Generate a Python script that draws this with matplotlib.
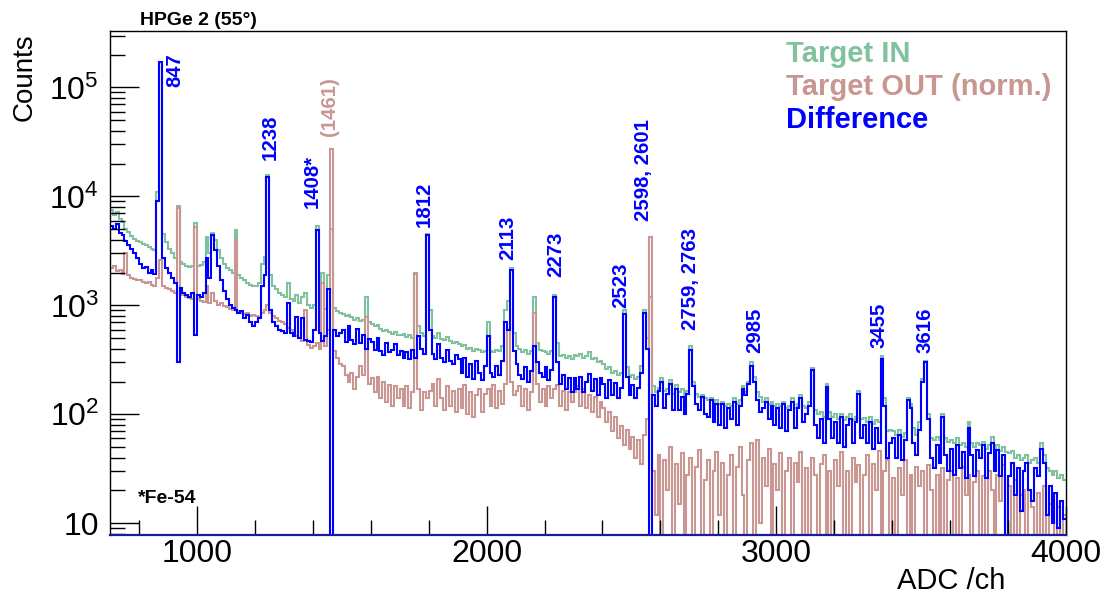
import numpy as np
import matplotlib
matplotlib.use("Agg")
import matplotlib.pyplot as plt
from matplotlib.ticker import FixedLocator, FuncFormatter, LogLocator, MultipleLocator, NullFormatter

# ---------------- data (10-channel bins, ADC 700 .. 4000) ----------------
CH_START, CH_STOP, BIN = 700, 4000, 10

difference = [
    5400, 5000, 5600, 4600, 4400, 3900, 3600, 3300, 3000, 2700,      # 700
    2400, 2200, 2250, 2000, 2100, 1950, 9000, 170000, 2700, 2200,    # 800
    2000, 1800, 1600, 300, 1450, 1300, 1250, 1200, 1300, 530,        # 900
    1250, 1200, 1300, 2700, 1800, 4400, 3200, 2300, 1700, 1350,      # 1000
    1150, 1000, 950, 900, 850, 880, 760, 820, 700, 640,              # 1100
    700, 760, 1500, 1900, 15000, 900, 700, 640, 600, 580,            # 1200
    560, 1050, 560, 520, 780, 500, 760, 480, 470, 460,               # 1300
    600, 4900, 560, 470, 520, 1400, -22000, 600, 520, 560,           # 1400
    600, 460, 640, 480, 440, 610, 450, 540, 400, 490,                # 1500
    460, 390, 500, 380, 350, 450, 370, 390, 440, 350,                # 1600
    380, 330, 370, 320, 390, 330, 520, 400, 360, 4400,               # 1700
    600, 360, 320, 440, 330, 300, 390, 310, 290, 350,                # 1800
    320, 240, 330, 220, 290, 210, 310, 240, 205, 280,                # 1900
    520, 240, 220, 280, 230, 310, 700, 600, 2100, 380,               # 2000
    290, 230, 210, 270, 200, 250, 420, 300, 240, 220,                # 2100
    270, 205, 255, 1190, 300, 190, 230, 170, 215, 160,               # 2200
    215, 170, 220, 160, 200, 235, 165, 210, 150, 215,                # 2300
    190, 140, 205, 150, 195, 140, 175, 840, 220, 150,                # 2400
    185, 140, 175, 240, 860, 400, -3000, 150, 120, 165,              # 2500
    200, 115, 155, 190, 110, 170, 110, 145, 100, 155,                # 2600
    390, 180, 125, 110, 145, 100, 95, 135, 85, 125,                  # 2700
    80, 125, 75, 115, 90, 130, 80, 120, 170, 150,                    # 2800
    190, 280, 200, 135, 105, 115, 130, 90, 120, 80,                  # 2900
    115, 75, 125, 70, 110, 130, 75, 115, 140, 85,                    # 3000
    100, 120, 253, 80, 60, 90, 55, 177, 90, 60,                      # 3100
    85, 55, 95, 50, 80, 90, 55, 85, 155, 60,                         # 3200
    80, 55, 85, 48, 75, 55, 325, 120, 40, 55,                        # 3300
    60, 40, 65, 38, 58, 134, 115, 55, 42, 72,                        # 3400
    200, 300, 90, 40, 32, 52, 36, 94, 42, 30,                        # 3500
    48, 28, 52, 32, 45, 26, 75, 42, 27, 47,                          # 3600
    40, 52, 26, 44, 55, 30, 47, 27, 42, -5,                          # 3700
    27, 36, 18, 32, 13, 30, 36, 20, 16, 32,                          # 3800
    27, 48, 36, 12, 22, 10, 19, 9, 16, 11,                           # 3900
]

target_out = [
    2200, 2300, 2050, 2100, 1950, 3000, 1900, 1800, 1750, 1700,      # 700
    1700, 1650, 1600, 1650, 1550, 1500, 1800, 2600, 1500, 1450,      # 800
    1400, 1350, 1300, 7900, 1280, 1250, 1200, 1180, 1150, 5200,      # 900
    1150, 1100, 1080, 1500, 1050, 1300, 1100, 1000, 1050, 980,       # 1000
    960, 930, 900, 3950, 880, 860, 840, 850, 800, 820,               # 1100
    800, 780, 850, 900, 1000, 850, 800, 760, 720, 700,               # 1200
    680, 620, 600, 560, 520, 500, 470, 900, 430, 410,                # 1300
    420, 450, 400, 1600, 420, 600, 27000, 380, 330, 290,             # 1400
    280, 230, 200, 240, 170, 220, 280, 230, 780, 190,                # 1500
    215, 160, 220, 140, 200, 130, 185, 120, 180, 140,                # 1600
    170, 120, 180, 115, 160, 1950, 170, 110, 160, 140,               # 1700
    165, 190, 120, 210, 140, 110, 180, 120, 165, 105,                # 1800
    170, 115, 185, 100, 160, 95, 150, 170, 105, 155,                 # 1900
    170, 120, 185, 115, 165, 125, 190, 590, 200, 150,                # 2000
    165, 180, 120, 170, 110, 160, 860, 190, 130, 170,                # 2100
    120, 180, 140, 170, 185, 120, 165, 110, 160, 130,                # 2200
    160, 180, 120, 170, 115, 150, 105, 145, 95, 130,                 # 2300
    115, 85, 105, 70, 95, 60, 78, 52, 72, 48,                        # 2400
    62, 40, 58, 35, 65, 90, 4200, 30, 12, 42,                        # 2500
    6, 38, 20, 50, 4, 35, 15, 44, 0, 28,                             # 2600
    40, 5, 33, 47, 3, 25, 38, 0, 30, 45,                             # 2700
    12, 36, 2, 28, 42, 5, 33, 50, 18, 0,                             # 2800
    38, 55, 6, 58, 10, 40, 22, 48, 3, 35,                            # 2900
    20, 44, 0, 30, 40, 4, 36, 24, 45, 2,                             # 3000
    32, 6, 40, 28, 0, 35, 42, 5, 30, 4,                              # 3100
    38, 22, 45, 0, 30, 5, 40, 24, 34, 3,                             # 3200
    28, 42, 4, 35, 20, 46, 0, 30, 38, 6,                             # 3300
    26, 2, 32, 18, 38, 3, 28, 0, 33, 22,                             # 3400
    30, 5, 34, 20, 0, 28, 6, 32, 3, 25,                              # 3500
    30, 4, 26, 0, 33, 18, 28, 3, 24, 30,                             # 3600
    5, 27, 0, 30, 20, 4, 28, 16, 34, 2,                              # 3700
    22, 4, 25, 0, 18, 20, 3, 20, 14, 0,                              # 3800
    19, 5, 22, 0, 15, 18, 2, 14, 0, 12,                              # 3900
]

target_in = [
    7500, 6800, 7200, 6200, 5800, 5000, 4700, 4300, 4100, 3900,      # 700
    3800, 3650, 3600, 3450, 3300, 3200, 11000, 172000, 4500, 3800,   # 800
    3300, 3000, 2700, 8200, 2500, 2400, 2300, 2250, 2300, 5700,      # 900
    2300, 2350, 2500, 4200, 3000, 4600, 4000, 3200, 2700, 2400,      # 1000
    2200, 2100, 2000, 4900, 1900, 1800, 1700, 1600, 1550, 1500,      # 1100
    1520, 1600, 2400, 2800, 15800, 1900, 1500, 1400, 1300, 1250,     # 1200
    1200, 1600, 1150, 1100, 1250, 1050, 1200, 1300, 1000, 950,       # 1300
    1000, 5300, 950, 2000, 920, 1900, 5000, 950, 880, 860,           # 1400
    840, 800, 820, 780, 740, 760, 720, 740, 1190, 700,               # 1500
    680, 640, 660, 610, 580, 600, 570, 550, 570, 540,                # 1600
    530, 550, 510, 530, 500, 2000, 650, 560, 520, 4500,              # 1700
    900, 520, 500, 560, 490, 480, 510, 470, 450, 460,                # 1800
    440, 420, 430, 400, 410, 380, 400, 390, 370, 380,                # 1900
    700, 380, 370, 390, 380, 420, 900, 1100, 2200, 560,              # 2000
    420, 400, 370, 390, 360, 380, 1200, 450, 390, 380,               # 2100
    370, 360, 380, 1250, 450, 340, 350, 330, 340, 320,               # 2200
    350, 340, 360, 330, 340, 370, 320, 330, 300, 310,                # 2300
    290, 260, 270, 240, 250, 230, 240, 900, 270, 220,                # 2400
    230, 210, 220, 280, 900, 500, 1200, 180, 160, 175,               # 2500
    215, 165, 170, 205, 155, 185, 160, 170, 150, 165,                # 2600
    420, 200, 155, 145, 150, 140, 135, 140, 125, 135,                # 2700
    125, 130, 120, 125, 120, 140, 125, 135, 180, 160,                # 2800
    200, 300, 220, 160, 145, 130, 140, 125, 130, 120,                # 2900
    125, 120, 130, 115, 120, 140, 115, 125, 150, 120,                # 3000
    115, 130, 265, 110, 100, 105, 95, 190, 105, 95,                  # 3100
    100, 90, 100, 88, 95, 100, 88, 95, 165, 90,                      # 3200
    92, 85, 95, 82, 88, 85, 340, 140, 70, 72,                        # 3300
    70, 65, 72, 62, 68, 140, 125, 75, 65, 85,                        # 3400
    210, 310, 100, 60, 58, 62, 58, 100, 60, 56,                      # 3500
    58, 54, 60, 52, 55, 50, 85, 55, 50, 54,                          # 3600
    52, 56, 48, 52, 62, 48, 52, 46, 50, 45,                          # 3700
    44, 46, 40, 42, 38, 40, 42, 36, 38, 40,                          # 3800
    36, 55, 42, 32, 30, 28, 30, 26, 28, 25,                          # 3900
]

# peak labels: (text, channel, counts at label base, colour key)
peak_labels = [
    ("847", 924, 1.0e5, "diff"),
    ("1238", 1252, 2.14e4, "diff"),
    ("1408*", 1397, 7.9e3, "diff"),
    ("(1461)", 1459, 3.6e4, "out"),
    ("1812", 1786, 5.2e3, "diff"),
    ("2113", 2072, 2.59e3, "diff"),
    ("2273", 2238, 1.81e3, "diff"),
    ("2523", 2462, 9.4e2, "diff"),
    ("2598, 2601", 2541, 6.0e3, "diff"),
    ("2759, 2763", 2703, 5.9e2, "diff"),
    ("2985", 2924, 3.63e2, "diff"),
    ("3455", 3355, 4.03e2, "diff"),
    ("3616", 3514, 3.63e2, "diff"),
]

legend_entries = ["Target IN", "Target OUT (norm.)", "Difference"]

# ---------------- style ----------------
GREEN = "#80c19e"
PINK = "#c99691"
BLUE = "#0000ff"
colors = {"in": GREEN, "out": PINK, "diff": BLUE}

plt.rcParams["font.family"] = ["Liberation Sans", "DejaVu Sans"]
plt.rcParams["mathtext.fontset"] = "custom"
plt.rcParams["mathtext.rm"] = "Liberation Sans"
plt.rcParams["mathtext.it"] = "Liberation Sans:italic"
plt.rcParams["mathtext.bf"] = "Liberation Sans:bold"

for arr in (difference, target_out, target_in):
    assert len(arr) == (CH_STOP - CH_START) // BIN

edges = np.arange(CH_START, CH_STOP + BIN, BIN)

W, H = 1110, 596
fig = plt.figure(figsize=(W / 100, H / 100), dpi=100)
L, R, T, B = 110, 1066, 31, 535
ax = fig.add_axes([L / W, (H - B) / H, (R - L) / W, (B - T) / H])

floor = 1e-3
for vals, key in ((target_in, "in"), (target_out, "out"), (difference, "diff")):
    v = np.asarray(vals, dtype=float)
    v = np.where(v > 0, v, floor)
    ax.stairs(v, edges, color=colors[key], lw=1.5, baseline=None)

ax.set_yscale("log")
ax.set_xlim(CH_START, CH_STOP)
ax.set_ylim(7.8, 3.3e5)

# ticks
ax.xaxis.set_major_locator(FixedLocator([1000, 2000, 3000, 4000]))
ax.xaxis.set_minor_locator(MultipleLocator(200))
ax.yaxis.set_major_locator(LogLocator(base=10))
ax.yaxis.set_minor_locator(LogLocator(base=10, subs=np.arange(2, 10)))
ax.yaxis.set_minor_formatter(NullFormatter())


def yfmt(v, pos):
    e = int(round(np.log10(v)))
    if e == 1:
        return "10"
    return r"$\mathregular{10^{%d}}$" % e


ax.yaxis.set_major_formatter(FuncFormatter(yfmt))
ax.xaxis.set_major_formatter(FuncFormatter(lambda v, p: "%d" % v))
ax.tick_params(which="major", direction="in", length=21, width=1.0,
               labelsize=23, colors="black")
ax.tick_params(which="minor", direction="in", length=10.5, width=1.0)
ax.tick_params(axis="x", which="major", pad=3)
ax.tick_params(axis="y", which="major", pad=8)
for s in ax.spines.values():
    s.set_linewidth(1.0)
ax.spines["bottom"].set_color("#1a1aa0")
ax.spines["bottom"].set_linewidth(1.6)

# axis titles
fig.text(25 / W, 1 - 33 / H, "Counts", rotation=90, ha="center", va="top",
         fontsize=20)
fig.text(1005 / W, 1 - 589 / H, "ADC /ch", ha="right", va="baseline",
         fontsize=21)

# title
fig.text(140 / W, 1 - 25 / H, "HPGe 2 (55\u00b0)", ha="left", va="baseline",
         fontsize=14, fontweight="bold")

# legend (text only)
leg_colors = [GREEN, PINK, BLUE]
for i, (txt, c) in enumerate(zip(legend_entries, leg_colors)):
    fig.text(786 / W, 1 - (62 + 33 * i) / H, txt, color=c, ha="left",
             va="baseline", fontsize=21, fontweight="bold")

# peak labels
for txt, ch, yv, key in peak_labels:
    ax.text(ch, yv, txt, rotation=90, ha="center", va="bottom",
            color=colors[key], fontsize=14.7, fontweight="bold")

ax.text((138 - L) / (R - L), (B - 503) / (B - T), "*Fe-54",
        transform=ax.transAxes, ha="left", va="baseline",
        fontsize=14, fontweight="bold", color="black")

fig.savefig("out.png", dpi=100, facecolor="white")
